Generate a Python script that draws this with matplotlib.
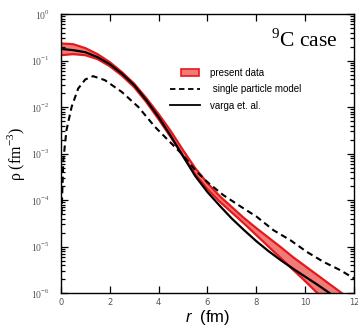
import matplotlib.pyplot as plt
import matplotlib.ticker as mticker
from matplotlib.patches import Patch, Rectangle
from matplotlib.lines import Line2D
from matplotlib.legend_handler import HandlerPatch
import numpy as np

plt.rcParams['mathtext.fontset'] = 'custom'
plt.rcParams['mathtext.rm'] = 'Liberation Serif'
plt.rcParams['mathtext.it'] = 'Liberation Sans:italic'

# radius (fm) and densities (fm^-3)
r_band = [0.0, 0.5, 1.0, 1.5, 2.0, 2.5, 3.0, 3.5, 4.0, 4.5, 5.0, 5.5, 6.0, 6.5,
          7.0, 7.5, 8.0, 8.5, 9.0, 9.5, 10.0, 10.5, 11.0, 11.5, 12.0]
band_upper = [0.234, 0.226, 0.186, 0.138, 0.093, 0.0566, 0.032, 0.0156, 0.0071,
              0.00305, 0.00119, 4.88e-4, 2.32e-4, 1.22e-4, 7.07e-5, 4.1e-5, 2.5e-5,
              1.56e-5, 9.75e-6, 5.95e-6, 3.81e-6, 2.44e-6, 1.56e-6, 1.0e-6, 6.4e-7]
band_lower = [0.131, 0.138, 0.131, 0.108, 0.076, 0.0476, 0.0269, 0.0128, 0.0055,
              0.00226, 8.8e-4, 3.62e-4, 1.73e-4, 9.3e-5, 5.4e-5, 3.13e-5, 1.77e-5,
              1.0e-5, 5.66e-6, 3.2e-6, 1.81e-6, 1.0e-6, 5.5e-7, 3.0e-7, 1.7e-7]

r_varga = [0.1, 0.5, 1.0, 1.5, 2.0, 2.5, 3.0, 3.5, 4.0, 4.5, 5.0, 5.5, 6.0, 6.5,
           7.0, 7.5, 8.0, 8.5, 9.0, 9.5, 10.0, 10.5, 11.0, 11.5]
varga = [0.177, 0.168, 0.152, 0.119, 0.084, 0.0525, 0.0297, 0.0141, 0.0061, 0.0024,
         8.8e-4, 3.3e-4, 1.49e-4, 7.6e-5, 4.0e-5, 2.26e-5, 1.31e-5, 8.0e-6, 5.1e-6,
         3.36e-6, 2.26e-6, 1.52e-6, 1.0e-6, 6.7e-7]

r_sp = [0.03, 0.1, 0.23, 0.44, 0.71, 1.0, 1.32, 1.8, 2.49, 3.17, 3.85, 4.39, 5.0,
        5.5, 6.0, 6.65, 7.34, 8.02, 8.7, 9.39, 10.07, 10.75, 11.43, 12.0]
single_particle = [5e-5, 7.2e-4, 3.2e-3, 0.0101, 0.0252, 0.0394, 0.0464, 0.0381,
                   0.0213, 0.0101, 0.00377, 0.00195, 9.3e-4, 4.4e-4, 2.44e-4,
                   1.28e-4, 7.4e-5, 4.38e-5, 2.26e-5, 1.38e-5, 7.7e-6, 4.7e-6,
                   3.13e-6, 2.07e-6]

ytick_vals = [1e0, 1e-1, 1e-2, 1e-3, 1e-4, 1e-5, 1e-6]
ytick_labels = ['$10^{0}$', '$10^{-1}$', '$10^{-2}$', '$10^{-3}$',
                '$10^{-4}$', '$10^{-5}$', '$10^{-6}$']

band_face = '#f27a78'
band_edge = '#e5191b'


def small_rect(legend, orig_handle, xdescent, ydescent, width, height, fontsize):
    # legend swatch is narrower than the line handles
    return Rectangle((-xdescent + 0.38 * width, -ydescent + 0.05 * height),
                     0.6 * width, 0.9 * height)


fig = plt.figure(figsize=(3.58, 3.29), dpi=100)
ax = fig.add_axes([0.170, 0.109, 0.819, 0.848])

ax.fill_between(r_band, band_lower, band_upper, facecolor=band_face,
                edgecolor='none', zorder=1)
ax.plot(r_band, band_upper, color=band_edge, linewidth=1.6, zorder=2)
ax.plot(r_band, band_lower, color=band_edge, linewidth=1.6, zorder=2)
ax.plot(r_sp, single_particle, color='black', linestyle=(0, (3, 2)),
        linewidth=1.5, zorder=3)
ax.plot(r_varga, varga, color='black', linewidth=1.6, zorder=4)

ax.set_yscale('log')
ax.set_xlim(0, 12)
ax.set_ylim(1e-6, 1e0)

ax.set_xticks(range(0, 13, 2))
ax.set_yticks(ytick_vals)
ax.set_yticklabels(ytick_labels)
ax.yaxis.set_minor_locator(mticker.LogLocator(base=10, subs=np.arange(2, 10), numticks=20))
ax.yaxis.set_minor_formatter(mticker.NullFormatter())
ax.tick_params(which='both', direction='in', top=True, right=True,
               labelcolor='#555555', width=0.9)
ax.tick_params(axis='x', labelsize=6)
ax.tick_params(axis='y', labelsize=7, pad=8)
ax.tick_params(which='major', length=5)
ax.tick_params(which='minor', length=3)
for s in ax.spines.values():
    s.set_linewidth(1.0)

ax.set_xlabel('$r$  (fm)', fontsize=12, labelpad=1, family='Liberation Sans')
ax.set_ylabel('ρ (fm$^{-3}$)', fontsize=11.5, labelpad=3, family='Liberation Serif')

ax.text(0.942, 0.905, '$^{9}$C case', transform=ax.transAxes, ha='right',
        va='center', fontsize=15.5, family='Liberation Serif')

handles = [Patch(facecolor=band_face, edgecolor=band_edge, linewidth=1.2),
           Line2D([], [], color='black', linestyle=(0, (3, 2)), linewidth=1.3),
           Line2D([], [], color='black', linewidth=1.3)]
labels = ['present data', ' single particle model', 'varga et. al.']
ax.legend(handles, labels, loc='upper left', bbox_to_anchor=(0.372, 0.807),
          frameon=False, handlelength=3.1, handleheight=0.8,
          labelspacing=0.65, handletextpad=1.0, borderpad=0, borderaxespad=0,
          handler_map={Patch: HandlerPatch(patch_func=small_rect)},
          prop={'family': 'Liberation Sans', 'size': 7})

fig.savefig('out.png', dpi=100)
